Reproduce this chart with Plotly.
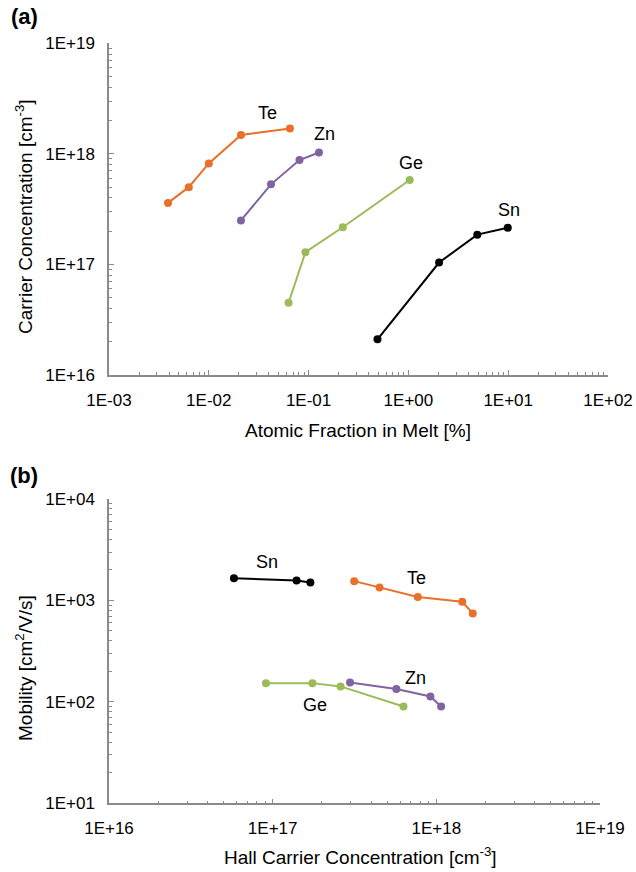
import plotly.graph_objects as go

# ---------------- data: panel (a) ----------------
te_frac = [0.0039, 0.0063, 0.010, 0.021, 0.065]
te_conc = [3.6e17, 5.0e17, 8.2e17, 1.48e18, 1.70e18]
zn_frac = [0.021, 0.042, 0.081, 0.127]
zn_conc = [2.5e17, 5.3e17, 8.8e17, 1.03e18]
ge_frac = [0.063, 0.093, 0.22, 1.03]
ge_conc = [4.5e16, 1.29e17, 2.17e17, 5.8e17]
sn_frac = [0.49, 2.03, 4.9, 9.9]
sn_conc = [2.1e16, 1.04e17, 1.86e17, 2.15e17]

# ---------------- data: panel (b) ----------------
sn_hall = [5.8e16, 1.40e17, 1.70e17]
sn_mob = [1650, 1575, 1505]
te_hall = [3.15e17, 4.5e17, 7.7e17, 1.44e18, 1.67e18]
te_mob = [1550, 1340, 1080, 970, 745]
ge_hall = [9.1e16, 1.75e17, 2.6e17, 6.3e17]
ge_mob = [153, 153, 142, 90]
zn_hall = [2.97e17, 5.7e17, 9.2e17, 1.07e18]
zn_mob = [155, 134, 113, 90]

# ---------------- tick labels ----------------
xa_vals = [1e-3, 1e-2, 1e-1, 1e0, 1e1, 1e2]
xa_text = ["1E-03", "1E-02", "1E-01", "1E+00", "1E+01", "1E+02"]
ya_vals = [1e16, 1e17, 1e18, 1e19]
ya_text = ["1E+16", "1E+17", "1E+18", "1E+19"]
xb_vals = [1e16, 1e17, 1e18, 1e19]
xb_text = ["1E+16", "1E+17", "1E+18", "1E+19"]
yb_vals = [1e1, 1e2, 1e3, 1e4]
yb_text = ["1E+01", "1E+02", "1E+03", "1E+04"]

series_names = ["Te", "Zn", "Ge", "Sn"]
colors = {"Te": "#E8702A", "Zn": "#8064A2", "Ge": "#9BBB59", "Sn": "#000000"}

W, H = 636, 872
FONT = "Liberation Sans, Arial, Helvetica, sans-serif"
AXC = "#8a8a8a"

fig = go.Figure()

top = {"Te": (te_frac, te_conc), "Zn": (zn_frac, zn_conc),
       "Ge": (ge_frac, ge_conc), "Sn": (sn_frac, sn_conc)}
bot = {"Te": (te_hall, te_mob), "Zn": (zn_hall, zn_mob),
       "Ge": (ge_hall, ge_mob), "Sn": (sn_hall, sn_mob)}

for n in series_names:
    x, y = top[n]
    fig.add_trace(go.Scatter(x=x, y=y, mode="lines+markers", name=n,
                             line=dict(color=colors[n], width=2),
                             marker=dict(color=colors[n], size=8),
                             xaxis="x", yaxis="y", showlegend=False))
for n in series_names:
    x, y = bot[n]
    fig.add_trace(go.Scatter(x=x, y=y, mode="lines+markers", name=n,
                             line=dict(color=colors[n], width=2),
                             marker=dict(color=colors[n], size=8),
                             xaxis="x2", yaxis="y2", showlegend=False))


def axis(vals, text, rng, domain, anchor, standoff):
    return dict(type="log", range=rng, domain=domain, anchor=anchor,
                automargin=False,
                tickmode="array", tickvals=vals, ticktext=text,
                ticks="inside", ticklen=5, tickwidth=1, tickcolor=AXC,
                ticklabelstandoff=standoff,
                minor=dict(ticks="inside", ticklen=3, tickwidth=1,
                           tickcolor=AXC, dtick="D1", showgrid=False),
                showline=True, linecolor=AXC, linewidth=1.5,
                showgrid=False, zeroline=False,
                tickfont=dict(family=FONT, size=17, color="#000"))

fig.update_layout(
    width=W, height=H,
    margin=dict(l=0, r=0, t=0, b=0, autoexpand=False),
    paper_bgcolor="white", plot_bgcolor="white",
    xaxis=axis(xa_vals, xa_text, [-3, 2], [109 / W, 608 / W], "y", 9),
    yaxis=axis(ya_vals, ya_text, [16, 19], [1 - 375 / H, 1 - 43.3 / H], "x", 9),
    xaxis2=axis(xb_vals, xb_text, [16, 19], [109 / W, 600 / W], "y2", 9),
    yaxis2=axis(yb_vals, yb_text, [1, 4], [1 - 803.3 / H, 1 - 499 / H], "x2", 9),
)

ann = []
# series labels (log10 coordinates)
lab_top = {"Te": (-1.41, 18.37), "Zn": (-0.84, 18.18), "Ge": (0.03, 17.92), "Sn": (1.01, 17.49)}
lab_bot = {"Sn": (16.965, 3.383), "Te": (17.88, 3.225), "Zn": (17.87, 2.238), "Ge": (17.258, 1.966)}
for n, (lx, ly) in lab_top.items():
    ann.append(dict(x=lx, y=ly, xref="x", yref="y", text=n, showarrow=False,
                    font=dict(family=FONT, size=18, color="#000")))
for n, (lx, ly) in lab_bot.items():
    ann.append(dict(x=lx, y=ly, xref="x2", yref="y2", text=n, showarrow=False,
                    font=dict(family=FONT, size=18, color="#000")))

# axis titles and panel letters
def pa(text, px, py, size=19, angle=0, bold=False):
    return dict(x=px / W, y=1 - py / H, xref="paper", yref="paper",
                text=("<b>%s</b>" % text) if bold else text, showarrow=False,
                textangle=angle, xanchor="center", yanchor="middle",
                font=dict(family=FONT, size=size, color="#000"))

ann.append(pa("Atomic Fraction in Melt [%]", 358, 431))
ann.append(pa("Carrier Concentration [cm<sup>-3</sup>]", 24, 217, angle=-90))
ann.append(pa("Hall Carrier Concentration [cm<sup>-3</sup>]", 360, 856))
ann.append(pa("Mobility [cm<sup>2</sup>/V/s]", 24, 668, angle=-90))
ann.append(pa("(a)", 24, 16, size=22, bold=True))
ann.append(pa("(b)", 24, 476, size=22, bold=True))

fig.update_layout(annotations=ann)
fig.write_html("out.html", config={"displayModeBar": False},
               post_script="document.body.style.margin='0';document.body.style.overflow='hidden';")
